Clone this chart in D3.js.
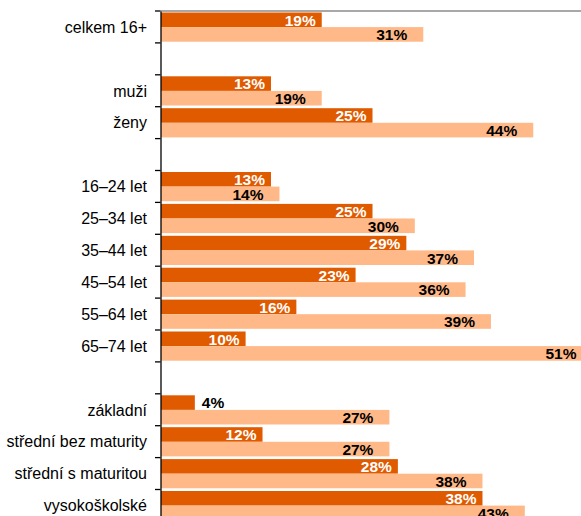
<!DOCTYPE html>
<html>
<head>
<meta charset="utf-8">
<script src="https://cdn.jsdelivr.net/npm/d3@7"></script>
<style>
    body { margin: 0; background: #fff; }
    #chart { width: 581px; height: 516px; overflow: hidden; }
    text { font-family: "Liberation Sans", Arial, sans-serif; }
</style>
</head>
<body>
<div id="chart"></div>
<script>
// categories (empty strings are spacer rows in the original)
let categories = ["celkem 16+", "", "muži", "ženy", "",
    "16–24 let", "25–34 let", "35–44 let", "45–54 let", "55–64 let", "65–74 let", "",
    "základní", "střední bez maturity", "střední s maturitou", "vysokoškolské"];

// dark series / light series, in %
let seriesDark = [19, null, 13, 25, null, 13, 25, 29, 23, 16, 10, null, 4, 12, 28, 38];
let seriesLight = [31, null, 19, 44, null, 14, 30, 37, 36, 39, 51, null, 27, 27, 38, 43];

let seriesNames = ["dark", "light"];
let seriesColors = ["#e05a00", "#ffb887"];

class BarChart {

    constructor(parentElement) {
        this.parentElement = parentElement;
        this.initVis();
    }

    initVis() {
        let vis = this;

        vis.width = 581;
        vis.height = 516;
        vis.plotTop = 11;
        vis.plotLeft = 160.5;
        vis.step = 31.9;

        vis.svg = d3.select("#" + vis.parentElement).append("svg")
            .attr("width", vis.width)
            .attr("height", vis.height);

        vis.svg.append("rect")
            .attr("width", vis.width)
            .attr("height", vis.height)
            .attr("fill", "#fff");

        // scales
        vis.xScale = d3.scaleLinear()
            .domain([0, 50])
            .range([161, 584]);

        vis.yScale = d3.scaleBand()
            .domain(d3.range(categories.length))
            .range([vis.plotTop, vis.plotTop + vis.step * categories.length])
            .padding(0);

        vis.subScale = d3.scaleBand()
            .domain(seriesNames)
            .range([1.5, vis.yScale.bandwidth() - 1.2]);

        vis.wrangleData();
    }

    wrangleData() {
        let vis = this;

        vis.displayData = [];
        categories.forEach((c, i) => {
            [seriesDark, seriesLight].forEach((s, j) => {
                if (s[i] !== null) {
                    vis.displayData.push({index: i, series: seriesNames[j], value: s[i]});
                }
            });
        });

        vis.updateVis();
    }

    updateVis() {
        let vis = this;

        // plot area top border
        vis.svg.append("line")
            .attr("x1", vis.plotLeft)
            .attr("x2", vis.width)
            .attr("y1", vis.plotTop)
            .attr("y2", vis.plotTop)
            .attr("stroke", "#a8a8a8")
            .attr("stroke-width", 2);

        // bars
        vis.svg.selectAll(".bar")
            .data(vis.displayData)
            .enter()
            .append("rect")
            .attr("class", "bar")
            .attr("x", vis.xScale(0))
            .attr("y", d => vis.yScale(d.index) + vis.subScale(d.series))
            .attr("width", d => vis.xScale(d.value) - vis.xScale(0))
            .attr("height", vis.subScale.bandwidth())
            .attr("fill", d => d.series === "dark" ? seriesColors[0] : seriesColors[1]);

        // value labels
        vis.svg.selectAll(".value-label")
            .data(vis.displayData)
            .enter()
            .append("text")
            .attr("class", "value-label")
            .attr("font-size", "15.5px")
            .attr("font-weight", "bold")
            .attr("y", d => vis.yScale(d.index) + vis.subScale(d.series) + vis.subScale.bandwidth() - 1.5)
            .each(function (d) {
                let barW = vis.xScale(d.value) - vis.xScale(0);
                let t = d3.select(this);
                if (barW < 40) {
                    t.attr("x", vis.xScale(d.value) + 7).attr("text-anchor", "start").attr("fill", "#000");
                } else if (d.series === "dark") {
                    t.attr("x", vis.xScale(d.value) - 6).attr("text-anchor", "end").attr("fill", "#fff");
                } else {
                    t.attr("x", vis.xScale(d.value) - 16).attr("text-anchor", "end").attr("fill", "#000");
                }
            })
            .text(d => d.value + "%");

        // axis line + ticks at band boundaries
        vis.axisGroup = vis.svg.append("g")
            .attr("class", "axis y-axis")
            .attr("transform", `translate(${vis.plotLeft}, 0)`);

        vis.axisGroup.call(d3.axisLeft(vis.yScale).tickSize(0).tickFormat(""));
        vis.axisGroup.select(".domain")
            .attr("stroke", "#000")
            .attr("stroke-width", 1.3);

        let boundaries = d3.range(categories.length + 1).map(i => vis.plotTop + i * vis.step);
        vis.axisGroup.selectAll(".bound-tick")
            .data(boundaries)
            .enter()
            .append("line")
            .attr("class", "bound-tick")
            .attr("x1", -5.5)
            .attr("x2", 0)
            .attr("y1", d => d)
            .attr("y2", d => d)
            .attr("stroke", "#000")
            .attr("stroke-width", 1.3);

        // category labels
        vis.svg.selectAll(".cat-label")
            .data(categories)
            .enter()
            .append("text")
            .attr("class", "cat-label")
            .attr("x", 147)
            .attr("y", (d, i) => vis.yScale(i) + vis.yScale.bandwidth() / 2)
            .attr("dy", "0.36em")
            .attr("text-anchor", "end")
            .attr("font-size", "16px")
            .attr("fill", "#000")
            .text(d => d);
    }
}

new BarChart("chart");
</script>
</body>
</html>
